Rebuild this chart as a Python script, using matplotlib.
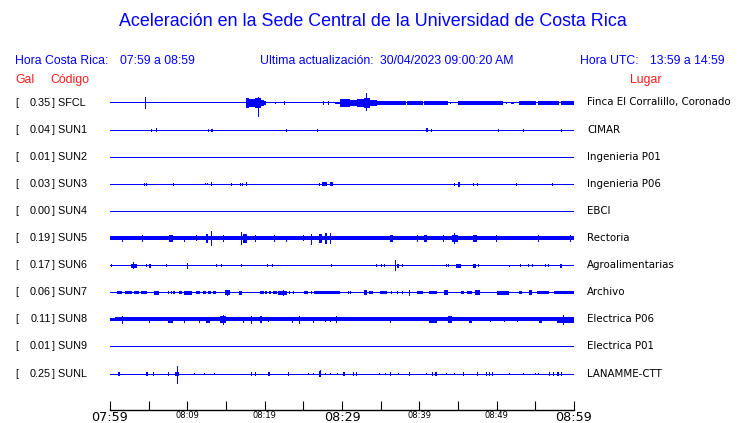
import matplotlib
matplotlib.use("Agg")
import matplotlib.pyplot as plt
import matplotlib.transforms as mtransforms
import numpy as np

# ---------------- data ----------------
title = "Aceleración en la Sede Central de la Universidad de Costa Rica"
hora_cr = "07:59 a 08:59"
hora_utc = "13:59 a 14:59"
actualizacion = "30/04/2023 09:00:20 AM"

codes = ["SFCL", "SUN1", "SUN2", "SUN3", "SUN4", "SUN5", "SUN6", "SUN7", "SUN8", "SUN9", "SUNL"]
gal = [0.35, 0.04, 0.01, 0.03, 0.00, 0.19, 0.17, 0.06, 0.11, 0.01, 0.25]
places = ["Finca El Corralillo, Coronado", "CIMAR", "Ingenieria P01", "Ingenieria P06", "EBCI",
          "Rectoria", "Agroalimentarias", "Archivo", "Electrica P06", "Electrica P01", "LANAMME-CTT"]
# background noise level of each trace (trace units, half thickness)
noise = [0.5, 0.5, 0.5, 0.5, 0.5, 2.0, 0.5, 0.5, 2.0, 0.5, 0.5]

tick_minutes = [0, 5, 10, 15, 20, 25, 30, 35, 40, 45, 50, 55, 60]
tick_labels = ["07:59", "", "08:09", "", "08:19", "", "08:29", "", "08:39", "", "08:49", "", "08:59"]
big_labels = ["07:59", "08:29", "08:59"]

# events: (start minute, end minute, amplitude up, amplitude down)  or (start, end, amp)
ev_SFCL = [(4.57, 4.57, 5.5), (17.46, 17.89, 5), (17.89, 18.75, 3.5), (18.75, 19.4, 5),
           (19.18, 19.18, 6, 13.7), (19.4, 19.83, 3), (19.83, 20.13, 1.5),
           (21.4, 21.4, 1), (22.5, 22.5, 1.5), (27.5, 27.5, 2), (28.2, 28.2, 2),
           (29.0, 29.7, 1.2), (29.7, 31.0, 3.5), (31.0, 31.9, 2.5), (31.9, 32.8, 3.5),
           (32.8, 33.6, 5), (33.1, 33.1, 10, 8), (33.6, 34.5, 3), (34.5, 38.2, 1.6),
           (38.4, 40.4, 1.6), (40.6, 43.6, 1.6), (44.0, 44.0, 1.2), (44.9, 50.8, 1.6),
           (51.2, 51.2, 1.2), (51.8, 52.2, 1.2), (52.8, 53.9, 2.4), (53.9, 55.0, 1.6),
           (55.3, 58.0, 1.6), (58.3, 59.9, 1.5)]
ev_SUN1 = [(5.3, 5.3, 1.5), (5.85, 5.95, 2), (7.8, 7.8, 1, 0), (9.7, 9.7, 0, 1), (12.7, 12.7, 1.5),
           (13.0, 13.0, 1.5), (13.2, 13.2, 1.5), (22.7, 22.7, 1.5), (23.1, 23.1, 0, 1),
           (26.8, 26.8, 1.5), (33.7, 33.7, 0, 1), (40.8, 41.0, 2), (41.5, 41.5, 1.5),
           (50.2, 50.2, 1.5), (53.4, 53.4, 1.5), (58.3, 58.3, 1.5), (59.4, 59.4, 1, 0)]
ev_SUN2 = []
ev_SUN3 = [(4.3, 4.4, 1.5), (4.6, 4.7, 1.5), (8.1, 8.1, 1.5), (11.5, 11.5, 0, 1), (12.3, 12.3, 1),
           (12.6, 12.6, 1), (12.95, 13.05, 2), (15.7, 15.7, 1.5), (16.8, 16.8, 1.5),
           (17.1, 17.1, 1.5), (17.5, 17.7, 2), (18.8, 18.8, 1.5, 0), (24.6, 24.6, 0, 1),
           (27.0, 27.0, 1.5), (27.4, 28.0, 2), (28.4, 28.8, 2), (35.2, 35.2, 0, 1),
           (40.7, 40.7, 1, 0), (43.1, 43.1, 0, 1), (44.5, 44.5, 1.5), (44.9, 45.2, 2.5),
           (47.0, 47.0, 1.5), (47.5, 47.5, 1.5), (52.5, 52.5, 1.5), (57.1, 57.1, 1.5),
           (57.4, 57.4, 0, 1), (59.1, 59.1, 1, 0)]
ev_SUN4 = []
ev_SUN5 = [(1.6, 1.6, 2, 3.5), (4.1, 4.1, 3.5), (7.6, 8.1, 3.5), (9.6, 9.6, 2, 3), (11.1, 11.1, 3, 2),
           (12.3, 12.6, 4), (13.0, 13.0, 7, 7.7), (14.6, 14.6, 3.5), (17.0, 17.0, 6),
           (17.2, 17.6, 4.5), (18.7, 18.7, 3.5), (21.2, 21.2, 3), (22.7, 22.7, 2, 3),
           (24.9, 24.9, 3, 2), (26.0, 26.0, 4, 6), (27.0, 27.3, 4), (27.7, 28.0, 5),
           (28.4, 28.4, 5), (36.2, 36.5, 3.5), (39.7, 39.7, 3), (40.6, 40.9, 3.5),
           (43.1, 43.1, 3), (44.1, 44.9, 3.5), (44.5, 44.5, 5.5), (46.9, 47.4, 3.5),
           (49.9, 49.9, 3), (55.3, 55.3, 3), (59.5, 59.5, 3)]
ev_SUN6 = [(0.1, 0.1, 1.5), (2.7, 3.4, 2), (3.0, 3.0, 3.3), (4.6, 4.6, 1.5), (5.0, 5.2, 2),
           (7.2, 7.2, 1.5), (9.2, 9.2, 0, 1), (10.0, 10.0, 2.7, 3), (13.7, 13.7, 1.5),
           (14.4, 14.4, 1.5), (16.9, 16.9, 1.5), (17.4, 17.4, 1, 0), (18.8, 18.8, 0, 1),
           (20.3, 20.3, 1.5), (20.9, 20.9, 1.5), (21.2, 21.2, 0, 1), (25.1, 25.1, 0, 1),
           (28.6, 28.6, 1.5), (32.3, 32.3, 1, 0), (33.5, 33.5, 1, 0), (34.4, 34.4, 1.5),
           (35.0, 35.0, 1.5), (35.4, 35.4, 1.5), (36.8, 36.8, 6, 5.7), (37.0, 37.3, 2),
           (37.8, 37.8, 1.5), (40.9, 40.9, 0, 1), (43.4, 43.4, 1.5), (43.7, 43.7, 1.5),
           (44.7, 45.3, 2), (46.9, 47.2, 2), (47.6, 47.6, 1.5), (49.0, 49.0, 1, 0),
           (51.6, 51.6, 1), (53.0, 53.0, 1.5), (54.0, 54.0, 1.5), (54.6, 54.6, 1.5),
           (56.2, 56.2, 1.5), (56.7, 56.7, 1.5), (58.1, 58.4, 2)]
ev_SUN7 = [(0.87, 1.5, 1.7), (1.85, 2.8, 1.7), (3.0, 3.66, 1.7), (3.9, 4.7, 1.7), (5.6, 6.25, 2.0),
           (7.45, 7.6, 1.5), (7.8, 7.9, 1.5), (8.1, 8.4, 1.5), (8.8, 9.2, 1.7), (9.5, 10.5, 2.0),
           (11.1, 11.6, 1.7), (11.9, 12.3, 1.7), (12.6, 13.0, 1.7), (13.2, 13.6, 1.7),
           (14.8, 15.4, 2.2), (15.1, 15.1, 3), (16.6, 17.0, 1.9), (19.3, 19.8, 1.7),
           (20.0, 20.2, 1.5), (20.5, 20.7, 1.5), (21.0, 21.5, 1.7), (21.7, 22.8, 1.9),
           (22.4, 22.4, 3), (23.2, 23.2, 1.7), (23.7, 23.7, 1.7), (25.0, 25.6, 1.7), (25.9, 26.0, 1.5),
           (26.3, 29.7, 1.7), (30.8, 30.8, 1.5), (31.0, 31.0, 1.7), (32.8, 33.2, 2.2), (33.4, 34.0, 1.7),
           (34.8, 35.8, 1.7), (36.4, 36.4, 1.7), (37.1, 37.1, 1.7), (37.7, 37.7, 1.7), (38.6, 38.6, 3),
           (39.7, 40.4, 1.7), (41.2, 42.2, 1.7), (43.1, 43.7, 2.2), (45.3, 45.7, 1.7), (46.1, 46.8, 1.7),
           (47.2, 47.8, 2.2), (50.0, 51.5, 2.0), (52.8, 53.2, 1.7), (54.1, 54.5, 2.2), (55.2, 56.7, 1.7),
           (57.3, 59.9, 1.7)]
ev_SUN8 = [(1.6, 1.6, 4), (5.1, 5.1, 3), (7.5, 8.1, 3), (9.6, 9.6, 3), (11.5, 11.5, 3), (12.3, 12.9, 3),
           (14.2, 14.9, 3.5), (14.6, 14.6, 5), (17.2, 17.2, 3), (18.2, 18.2, 4), (19.3, 19.6, 3.5),
           (20.4, 20.4, 2.5), (23.5, 23.5, 3), (24.4, 24.4, 4), (26.3, 26.3, 3), (27.8, 27.8, 2.5),
           (28.4, 28.4, 2.5), (29.2, 29.2, 3.5), (36.2, 36.2, 3), (41.2, 42.2, 3), (43.7, 44.1, 3.5),
           (46.3, 46.8, 3), (49.2, 49.2, 2.5), (50.9, 50.9, 2.5), (52.6, 52.6, 2.5), (55.4, 55.8, 3),
           (57.8, 59.9, 3.2), (58.6, 58.6, 5)]
ev_SUN9 = []
ev_SUNL = [(1.0, 1.2, 1.5), (3.6, 3.6, 1, 0), (4.6, 4.9, 1.5), (5.5, 5.5, 1.5), (6.2, 6.2, 0, 1),
           (7.5, 7.5, 1.5), (8.3, 8.8, 1.5), (8.6, 8.6, 8, 9.7), (10.9, 10.9, 1), (12.2, 12.2, 1),
           (13.5, 13.5, 1), (15.4, 15.4, 1, 0), (18.2, 18.2, 1.5), (18.8, 18.8, 1.5), (20.4, 20.6, 1.5),
           (22.9, 23.1, 1.5), (25.6, 25.6, 1), (26.2, 26.2, 1), (27.0, 27.2, 2.5), (27.1, 27.1, 4, 3.3),
           (27.8, 27.8, 1), (28.5, 28.5, 1), (29.3, 29.3, 1), (30.1, 30.3, 1.5), (31.4, 31.5, 1.5),
           (31.8, 31.9, 1.5), (34.8, 34.8, 1), (35.6, 35.6, 1), (36.2, 36.2, 1.5), (37.3, 37.3, 1),
           (38.7, 38.7, 1.5), (40.9, 40.9, 1), (41.6, 41.7, 1.5), (42.0, 42.2, 1.5), (43.4, 43.4, 1),
           (44.5, 44.5, 1), (45.6, 45.6, 1.5), (47.4, 47.4, 1.5), (48.6, 48.6, 1.5), (49.0, 49.0, 1.5),
           (49.4, 49.4, 1.5), (51.6, 51.6, 1), (53.4, 53.4, 1), (55.0, 55.0, 1), (55.3, 55.3, 1),
           (56.8, 56.8, 1.5), (57.3, 57.3, 1.5), (57.7, 58.0, 1.5), (58.3, 58.3, 1.5)]
events = [ev_SFCL, ev_SUN1, ev_SUN2, ev_SUN3, ev_SUN4, ev_SUN5, ev_SUN6, ev_SUN7, ev_SUN8, ev_SUN9, ev_SUNL]

# ---------------- figure ----------------
W, H = 740, 423
BLUE = "#0000ff"
RED = "#ff1a1a"
SANS = ["Liberation Sans", "DejaVu Sans"]
fig = plt.figure(figsize=(W / 100, H / 100), dpi=100)

ax_top_px, ax_bot_px = 88.5, 409.5
ax = fig.add_axes([110 / W, (H - ax_bot_px) / H, 464 / W, (ax_bot_px - ax_top_px) / H])
row_step = 27.1
first_row_px = 102.5
ax.set_xlim(0, 60)
ax.set_ylim(-(ax_bot_px - first_row_px), first_row_px - ax_top_px)

for s in ["top", "left", "right"]:
    ax.spines[s].set_visible(False)
ax.spines["bottom"].set_linewidth(1.0)
ax.set_yticks([])
ax.set_xticks(tick_minutes)
ax.set_xticklabels(tick_labels, family="DejaVu Sans")
for lab in ax.get_xticklabels():
    lab.set_fontsize(9.2 if lab.get_text() in big_labels else 6.0)
ax.tick_params(axis="x", direction="in", length=6.5, width=0.8, pad=0.8, colors="black")

edge_px = 0.7 / 72 * 100       # width of bar outline in pixels
half = edge_px / 2
min_per_px = 60 / 464
for i, code in enumerate(codes):
    y0 = -row_step * i
    if code == "SUN8":
        ax.hlines(y0, 0, 0.7, color=BLUE, lw=0.8, antialiased=False)
        ax.hlines(y0, 0.7, 60, color=BLUE, lw=noise[i] * 2 * 0.72, antialiased=False)
    else:
        ax.hlines(y0, 0, 60, color=BLUE, lw=max(noise[i] * 2, 1.0) * 0.72, antialiased=False)
    for e in events[i]:
        t0, t1 = e[0], e[1]
        up = e[2]
        dn = e[3] if len(e) > 3 else e[2]
        h = max(up + dn - edge_px, 0)
        w = max(t1 - t0 - edge_px * min_per_px, 0)
        ax.bar(x=t0 + half * min_per_px if t1 > t0 else t0, height=h, width=w,
               bottom=y0 - dn + half, align="edge",
               color=BLUE, edgecolor=BLUE, linewidth=0.7, antialiased=False)

# ---------------- text ----------------
def ftext(xp, yp, s, **kw):
    fig.text(xp / W, 1 - yp / H, s, **kw)

ftext(373, 22, title, ha="center", va="center", color=BLUE, fontsize=12.9, family=SANS)
hdr = dict(va="center", color=BLUE, fontsize=8.8, family=SANS)
ftext(15, 61, "Hora Costa Rica:", ha="left", **hdr)
ftext(120, 61, hora_cr, ha="left", **hdr)
ftext(260, 61, "Ultima actualización:", ha="left", **hdr)
ftext(380, 61, actualizacion, ha="left", **hdr)
ftext(580, 61, "Hora UTC:", ha="left", **hdr)
ftext(650, 61, hora_utc, ha="left", **hdr)
sub = dict(va="center", color=RED, fontsize=8.8, family=SANS)
ftext(15, 80, "Gal", ha="left", **sub)
ftext(50, 80, "Código", ha="left", **sub)
ftext(646, 80, "Lugar", ha="center", **sub)

trans = mtransforms.blended_transform_factory(fig.transFigure, ax.transData)
for i, code in enumerate(codes):
    y0 = -row_step * i
    lab = dict(transform=trans, va="center", color="black", fontsize=7.8, family=SANS)
    fig.text(15 / W, y0, "[", ha="left", **lab)
    fig.text(51 / W, y0, f"{gal[i]:.2f}", ha="right", **lab)
    fig.text(51.5 / W, y0, f"] {code}", ha="left", **lab)
    fig.text(587 / W, y0, places[i], transform=trans, va="center", ha="left",
             color="black", fontsize=7.4, family="DejaVu Sans")

fig.savefig("out.png", dpi=100)
